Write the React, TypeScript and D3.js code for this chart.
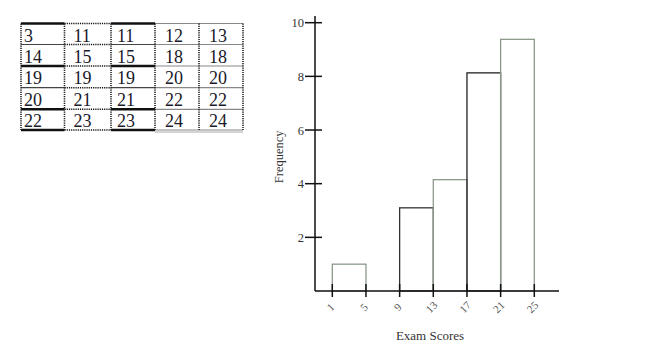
import React from "react";
import * as d3 from "d3";

const tableValues: number[][] = [
  [3, 11, 11, 12, 13],
  [14, 15, 15, 18, 18],
  [19, 19, 19, 20, 20],
  [20, 21, 21, 22, 22],
  [22, 23, 23, 24, 24],
];
const binStarts = [1, 5, 9, 13, 17, 21];
const binWidth = 4;
const frequencies = [1.0, 0, 3.1, 4.15, 8.13, 9.38];
const xTickValues = [1, 5, 9, 13, 17, 21, 25];
const yTickValues = [2, 4, 6, 8, 10];
const barStrokes = ["#8c9a8c", "#8c9a8c", "#333", "#8c9a8c", "#222", "#8c9a8c"];

const W = 650;
const H = 344;

function Table() {
  const colX = [21, 64.5, 111, 155, 199, 243];
  const rowY = [23.5, 44.5, 66, 87.7, 109.3, 130];
  const textPad = [3, 9, 6, 10, 10];
  const lines: React.ReactNode[] = [];
  for (let r = 0; r < rowY.length; r++) {
    const thickRow = r === 0 || r === 2 || r === 4 || r === 5;
    for (let c = 0; c < 5; c++) {
      let stroke = "#111";
      let sw = 1;
      let dash: string | undefined;
      if (c === 1) {
        dash = "1.2,1";
        sw = 1.6;
      } else if (c === 0 || c === 2) {
        sw = thickRow ? 2.4 : 1.2;
        stroke = thickRow ? "#111" : "#444";
      } else {
        stroke = "#888";
        sw = 1.2;
      }
      lines.push(
        <line key={`h${r}-${c}`} x1={colX[c]} x2={colX[c + 1]} y1={rowY[r]} y2={rowY[r]}
          stroke={stroke} strokeWidth={sw} strokeDasharray={dash} />
      );
      if (r === 5 && c >= 3) {
        lines.push(
          <line key={`hh${r}-${c}`} x1={colX[c]} x2={colX[c + 1]} y1={rowY[r] + 2} y2={rowY[r] + 2}
            stroke="#aaa" strokeWidth={1} />
        );
      }
    }
  }
  for (let c = 0; c < colX.length; c++) {
    lines.push(
      <line key={`v${c}`} x1={colX[c]} x2={colX[c]} y1={rowY[0]} y2={rowY[5]}
        stroke="#222" strokeWidth={1.6} strokeDasharray="1.2,1" />
    );
  }
  const texts: React.ReactNode[] = [];
  tableValues.forEach((row, r) =>
    row.forEach((v, c) => {
      texts.push(
        <text key={`t${r}-${c}`} x={colX[c] + textPad[c]} y={rowY[r] + 18}
          fontFamily="Liberation Serif" fontSize={18} fill="#1a1a2a">
          {v}
        </text>
      );
    })
  );
  return (
    <g>
      {lines}
      {texts}
    </g>
  );
}

function Histogram() {
  const x = d3.scaleLinear().domain([1, 25]).range([332.3, 534.3]);
  const y = d3.scaleLinear().domain([0, 10]).range([291, 22.7]);
  const x0 = x.invert(315);
  const x1 = x.invert(559);
  const axisColor = "#111";
  return (
    <g>
      {binStarts.map((b, i) =>
        frequencies[i] > 0 ? (
          <rect key={`bar${i}`} x={x(b)} y={y(frequencies[i])} width={x(b + binWidth) - x(b)}
            height={y(0) - y(frequencies[i])} fill="none" stroke={barStrokes[i]} strokeWidth={1.3} />
        ) : null
      )}
      <line x1={x(x0)} x2={x(x0)} y1={y(10.25)} y2={y(0)} stroke={axisColor} strokeWidth={1.5} />
      {yTickValues.map((t) => (
        <g key={`yt${t}`}>
          <line x1={x(x0) - 10} x2={x(x0) + 7} y1={y(t)} y2={y(t)} stroke={axisColor} strokeWidth={1.5} />
          <text x={x(x0) - 11} y={y(t) + 4.5} textAnchor="end" fontFamily="Liberation Serif"
            fontSize={12.5} fill="#333">{t}</text>
        </g>
      ))}
      <line x1={x(x0)} x2={x(x1)} y1={y(0)} y2={y(0)} stroke={axisColor} strokeWidth={1.5} />
      {xTickValues.map((t) => (
        <g key={`xt${t}`}>
          <line x1={x(t)} x2={x(t)} y1={y(0) - 7} y2={y(0) + 6} stroke={axisColor} strokeWidth={1.5} />
          <text transform={`translate(${x(t) - 2},${y(0) + 16}) rotate(-45)`} textAnchor="middle"
            dominantBaseline="central" fontFamily="Liberation Serif" fontSize={11} fill="#555">{t}</text>
        </g>
      ))}
      <text transform={`translate(283,${y(5)}) rotate(-90)`} textAnchor="middle"
        fontFamily="Liberation Serif" fontSize={12.5} fill="#333">Frequency</text>
      <text x={430} y={340} textAnchor="middle" fontFamily="Liberation Serif" fontSize={13}
        fill="#333">Exam Scores</text>
    </g>
  );
}

export default function App() {
  return (
    <svg width={W} height={H} style={{ position: "absolute", left: 0, top: 0, background: "#fff" }}>
      <rect width={W} height={H} fill="#fff" />
      <Table />
      <Histogram />
    </svg>
  );
}
